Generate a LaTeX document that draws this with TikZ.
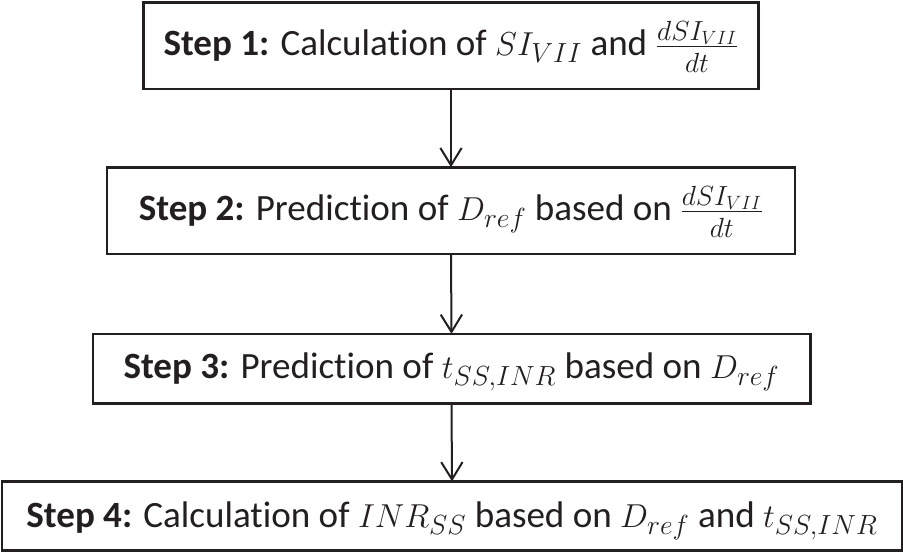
\documentclass[tikz,border=0pt]{standalone}
\usepackage{amsmath}
\usepackage{fontspec}
\setmainfont{Carlito}[Ligatures=NoCommon]
\usetikzlibrary{arrows.meta}
\definecolor{flowink}{RGB}{35,31,32}
\newcommand{\ratefrac}{{\fontsize{30.8}{36}\selectfont$\frac{dSI_{VII}}{\rule{0pt}{18pt}dt}$}}
\tikzset{
 flow box/.style={rectangle,draw=flowink,line width=2pt,fill=white,
                  inner sep=0pt,outer sep=0pt,text=flowink,
                  text height=20pt,text depth=5.7pt,
                  font=\fontsize{27.8}{32}\selectfont},
 flow arrow/.style={draw=flowink,line width=1.5pt,
                    -{Straight Barb[length=13pt,width=16pt,line width=1.5pt]}}
}

\begin{document}
\begin{tikzpicture}[x=.75pt,y=-.75pt]
 \useasboundingbox (0,0) rectangle (903,553);
 % steps, top to bottom
 \node[flow box,minimum width=461pt,minimum height=65pt] (s1) at (451,45.5)
   {\textbf{Step 1:} Calculation of $SI_{VII}$ and \ratefrac};
 \node[flow box,minimum width=516pt,minimum height=65pt] (s2) at (451,210.5)
   {\textbf{Step 2:} Prediction of $D_{ref}$ based on \ratefrac};
 \node[flow box,minimum width=538pt,minimum height=52pt] (s3) at (451.5,368.5)
   {\textbf{Step 3:} Prediction of $t_{SS,INR}$ based on $D_{ref}$};
 \node[flow box,minimum width=675pt,minimum height=52pt,text depth=3.5pt] (s4) at (452,516)
   {\textbf{Step 4:} Calculation of $INR_{SS}$ based on $D_{ref}$ and $t_{SS,INR}$};
 \foreach \a/\b in {s1/s2,s2/s3,s3/s4}{
   \draw[flow arrow] (\a.south) -- (\b.north);
 }
\end{tikzpicture}
\end{document}
